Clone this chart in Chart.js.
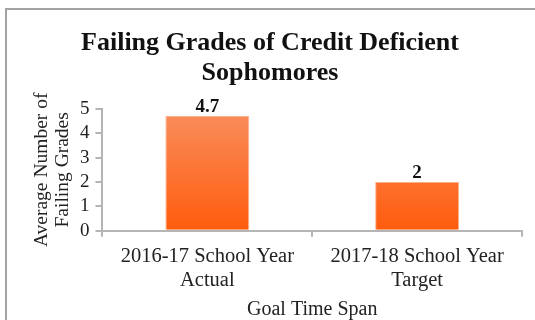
<!DOCTYPE html>
<html>
<head>
<meta charset="utf-8">
<script src="https://cdn.jsdelivr.net/npm/chart.js@4"></script>
<style>
  html, body { margin: 0; padding: 0; background: #fff; }
  #wrap { position: relative; width: 535px; height: 320px; }
</style>
</head>
<body>
<div id="wrap"><canvas id="chart" width="535" height="320"></canvas></div>
<script>
const categories = [
  ["2016-17 School Year", "Actual"],
  ["2017-18 School Year", "Target"],
];
const failingGrades = [4.7, 2];
const yTicks = [0, 1, 2, 3, 4, 5];

const serif = "'Liberation Serif', 'Times New Roman', serif";

// frame line along the top and left edge
const framePlugin = {
  id: "frame",
  beforeDraw(chart) {
    const ctx = chart.ctx;
    ctx.save();
    ctx.strokeStyle = "#a3a3a3";
    ctx.lineWidth = 2;
    ctx.beginPath();
    ctx.moveTo(6, 320);
    ctx.lineTo(6, 9);
    ctx.lineTo(535, 9);
    ctx.stroke();
    ctx.restore();
  },
};

// value labels above the bars
const valueLabels = {
  id: "valueLabels",
  afterDatasetsDraw(chart) {
    const ctx = chart.ctx;
    const meta = chart.getDatasetMeta(0);
    ctx.save();
    ctx.font = "bold 19px " + serif;
    ctx.fillStyle = "#111";
    ctx.textAlign = "center";
    ctx.textBaseline = "alphabetic";
    meta.data.forEach((bar, i) => {
      ctx.fillText(String(failingGrades[i]), bar.x, bar.y - 4);
    });
    ctx.restore();
  },
};

function barGradient(context) {
  const area = context.chart.chartArea;
  if (!area) return "#fd6a26";
  const g = context.chart.ctx.createLinearGradient(0, area.top, 0, area.bottom);
  g.addColorStop(0, "#f98e5e");
  g.addColorStop(1, "#ff5c0c");
  return g;
}

new Chart(document.getElementById("chart"), {
  type: "bar",
  data: {
    labels: categories,
    datasets: [
      {
        data: failingGrades,
        backgroundColor: barGradient,
        borderColor: "#fbb08c",
        borderWidth: 1,
        barPercentage: 0.4,
        categoryPercentage: 1,
      },
    ],
  },
  options: {
    responsive: false,
    animation: false,
    layout: { padding: { left: 18, right: 13, top: 8, bottom: 0 } },
    plugins: {
      legend: { display: false },
      tooltip: { enabled: false },
      title: {
        display: true,
        text: ["Failing Grades of Credit Deficient", "Sophomores"],
        color: "#111",
        font: { family: serif, size: 26, weight: "bold", lineHeight: 1.15 },
        padding: { top: 20, bottom: 21 },
      },
    },
    scales: {
      x: {
        grid: {
          offset: true,
          drawOnChartArea: false,
          drawTicks: true,
          tickLength: 6,
          color: "#b5b5b5",
          lineWidth: 2,
        },
        border: { color: "#b5b5b5", width: 2 },
        ticks: {
          color: "#222",
          font: { family: serif, size: 20.5, lineHeight: 1.15 },
          padding: 8,
          maxRotation: 0,
        },
        title: {
          display: true,
          text: "Goal Time Span",
          color: "#222",
          font: { family: serif, size: 20, lineHeight: 1.0 },
          padding: { top: 0, bottom: 0 },
        },
      },
      y: {
        min: 0,
        max: 5,
        afterBuildTicks(axis) {
          axis.ticks = yTicks.map((v) => ({ value: v }));
        },
        grid: {
          drawOnChartArea: false,
          drawTicks: true,
          tickLength: 7,
          color: "#b5b5b5",
          lineWidth: 2,
        },
        border: { color: "#b5b5b5", width: 2 },
        ticks: {
          color: "#222",
          font: { family: serif, size: 19 },
          padding: 6,
          autoSkip: false,
        },
        title: {
          display: true,
          text: ["Average Number of", "Failing Grades"],
          color: "#222",
          font: { family: serif, size: 19.5, lineHeight: 1.05 },
          padding: { top: 14, bottom: 1 },
        },
      },
    },
  },
  plugins: [framePlugin, valueLabels],
});
</script>
</body>
</html>
